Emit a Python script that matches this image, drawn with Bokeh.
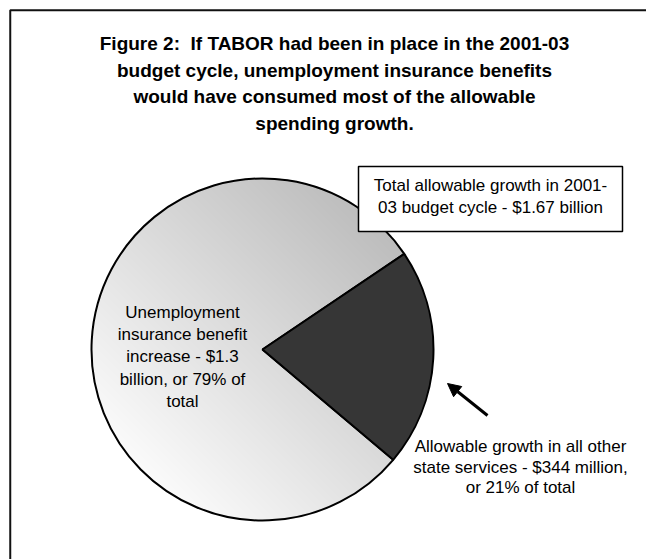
import numpy as np
from bokeh.plotting import figure
from bokeh.models import Arrow, NormalHead, Range1d
from bokeh.core.properties import value
from bokeh.embed import file_html
from bokeh.resources import INLINE

# ---------------- data ----------------
categories = ["Unemployment insurance benefit increase",
              "Allowable growth in all other state services"]
values_billion = [1.326, 0.344]          # total allowable growth = $1.67 billion
slice_colors = ["#dcdcdc", "#363636"]

title_lines = ["Figure 2:\u00a0 If TABOR had been in place in the 2001-03",
               "budget cycle, unemployment insurance benefits",
               "would have consumed most of the allowable",
               "spending growth."]
ui_label_lines = ["Unemployment", "insurance benefit", "increase - $1.3",
                  "billion, or 79% of", "total"]
other_label_lines = ["Allowable growth in all other",
                     "state services - $344 million,",
                     "or 21% of total"]
box_lines = ["Total allowable growth in 2001-",
             "03 budget cycle - $1.67 billion"]

# ---------------- layout ----------------
W, H = 646, 559
def Y(v):
    return H - np.asarray(v, dtype=float)

FONT = value("Liberation Sans")

p = figure(width=W, height=H, x_range=Range1d(0, W), y_range=Range1d(0, H),
           x_axis_type=None, y_axis_type=None, toolbar_location=None,
           output_backend="svg", min_border=0)
p.outline_line_color = None
p.background_fill_color = "white"
p.border_fill_color = "white"

# outer frame (extends beyond the window on right/bottom)
p.quad(left=[9.75], right=[W + 30], top=[float(Y(9.75))], bottom=[-30],
       fill_color=None, line_color="#111111", line_width=2)

# ---------------- pie ----------------
cx, cy, R = 262.0, float(Y(349)), 171.0
vals = np.array(values_billion, dtype=float)
fracs = vals / vals.sum()
start0 = np.deg2rad(34.0)
ends = start0 + np.cumsum(fracs) * 2 * np.pi
starts = np.concatenate([[start0], ends[:-1]])

# gradient texture for the large slice
N = int(2 * R + 6)
x0, y0 = cx - N / 2.0, cy - N / 2.0
gx = x0 + np.arange(N) + 0.5
gy = y0 + np.arange(N) + 0.5
GX, GY = np.meshgrid(gx, gy)
dx, dy = GX - cx, GY - cy
dist = np.hypot(dx, dy)
ang = np.mod(np.arctan2(dy, dx) - starts[0], 2 * np.pi)
inside = (dist <= R + 0.5) & (ang <= (ends[0] - starts[0]) + 0.02)
t = (dx + dy) / (np.sqrt(2) * R)
gray = np.clip(220 - 31 * t, 0, 255).astype(np.uint8)
img = np.zeros((N, N), dtype=np.uint32)
view = img.view(dtype=np.uint8).reshape((N, N, 4))
view[..., 0] = gray
view[..., 1] = gray
view[..., 2] = gray
view[..., 3] = np.where(inside, 255, 0).astype(np.uint8)
p.image_rgba(image=[img], x=x0, y=y0, dw=N, dh=N)

p.wedge(x=[cx, cx], y=[cy, cy], radius=R,
        start_angle=list(starts), end_angle=list(ends),
        fill_color=slice_colors, fill_alpha=[0.0, 1.0],
        line_color="black", line_width=2)

# ---------------- annotation box ----------------
p.quad(left=[358], right=[622], top=[float(Y(166))], bottom=[float(Y(231))],
       fill_color="white", line_color="black", line_width=1.5)
p.text(x=[490] * len(box_lines), y=list(Y([184.5, 207])), text=box_lines,
       text_font=FONT, text_font_size="17px", text_align="center",
       text_baseline="alphabetic", text_color="black")

# ---------------- labels ----------------
p.text(x=[182] * len(ui_label_lines),
       y=list(Y([311.5, 334, 356.3, 378.6, 401])), text=ui_label_lines,
       text_font=FONT, text_font_size="17px", text_align="center",
       text_baseline="alphabetic", text_color="black")

p.text(x=[520] * len(other_label_lines),
       y=list(Y([446, 466.5, 487])), text=other_label_lines,
       text_font=FONT, text_font_size="17px", text_align="center",
       text_baseline="alphabetic", text_color="black")

# arrow
p.add_layout(Arrow(x_start=487, y_start=float(Y(415)), x_end=447, y_end=float(Y(383)),
                   line_color="black", line_width=3,
                   end=NormalHead(size=13, fill_color="black", line_color="black")))

# ---------------- title ----------------
p.text(x=[334] * len(title_lines), y=list(Y([43, 69.5, 96, 122.5])), text=title_lines,
       text_font=FONT, text_font_size="19px", text_font_style="bold",
       text_align="center", text_baseline="alphabetic", text_color="black")

open("out.html", "w").write(file_html(p, INLINE))
